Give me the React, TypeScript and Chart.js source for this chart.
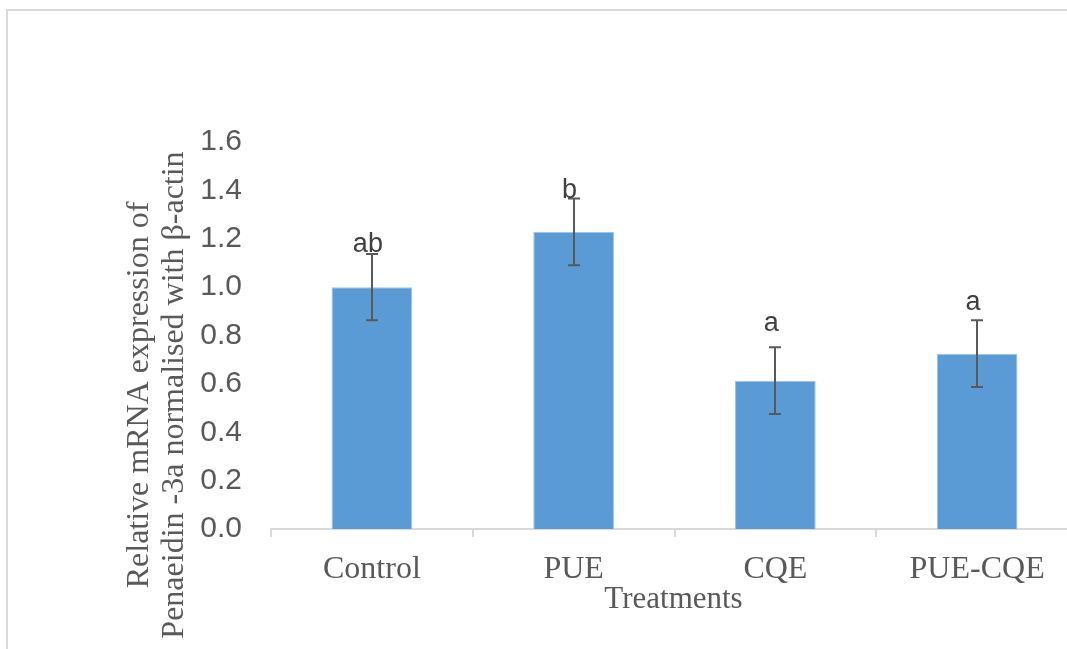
import React, { useEffect, useRef } from 'react';
import { Chart, registerables } from 'chart.js';

Chart.register(...registerables);

const categories = ['Control', 'PUE', 'CQE', 'PUE-CQE'];
const means = [1.0, 1.228, 0.613, 0.725];
const errors = [0.137, 0.138, 0.138, 0.138];
const letters = ['ab', 'b', 'a', 'a'];
const letterY = [1.145, 1.368, 0.819, 0.905];
const yMin = 0;
const yMax = 1.6;
const yStep = 0.2;
const xTitle = 'Treatments';
const yTitleLines = ['Relative mRNA expression of', 'Penaeidin -3a normalised with \u03b2-actin'];

const W = 1100;
const H = 680;

const extrasPlugin = {
  id: 'extras',
  beforeDraw(chart: any) {
    const ctx = chart.ctx;
    ctx.save();
    ctx.fillStyle = '#ffffff';
    ctx.fillRect(0, 0, chart.width, chart.height);
    ctx.strokeStyle = '#d9d9d9';
    ctx.lineWidth = 2;
    ctx.beginPath();
    ctx.moveTo(7, H);
    ctx.lineTo(7, 10);
    ctx.lineTo(W, 10);
    ctx.stroke();
    ctx.restore();
  },
  afterDatasetsDraw(chart: any) {
    const ctx = chart.ctx;
    const meta = chart.getDatasetMeta(0);
    const ys = chart.scales.y;
    ctx.save();
    ctx.strokeStyle = '#595959';
    ctx.lineWidth = 2;
    meta.data.forEach((bar: any, i: number) => {
      const x = Math.round(bar.x);
      const yt = ys.getPixelForValue(means[i] + errors[i]);
      const yb = ys.getPixelForValue(means[i] - errors[i]);
      ctx.beginPath();
      ctx.moveTo(x, yt);
      ctx.lineTo(x, yb);
      ctx.moveTo(x - 6, yt);
      ctx.lineTo(x + 6, yt);
      ctx.moveTo(x - 6, yb);
      ctx.lineTo(x + 6, yb);
      ctx.stroke();
    });
    ctx.fillStyle = '#404040';
    ctx.font = '27px "Liberation Sans", Arial, sans-serif';
    ctx.textAlign = 'center';
    ctx.textBaseline = 'alphabetic';
    meta.data.forEach((bar: any, i: number) => {
      ctx.fillText(letters[i], bar.x - 4, ys.getPixelForValue(letterY[i]));
    });
    ctx.restore();
  },
  afterDraw(chart: any) {
    const ctx = chart.ctx;
    const area = chart.chartArea;
    ctx.save();
    ctx.fillStyle = '#595959';
    ctx.font = '31px "Liberation Serif", "Times New Roman", serif';
    ctx.textAlign = 'center';
    ctx.textBaseline = 'alphabetic';
    ctx.fillText(xTitle, (area.left + area.right) / 2 - 1, 608);
    ctx.font = '32px "Liberation Serif", "Times New Roman", serif';
    const baselines = [148, 183];
    yTitleLines.forEach((line, i) => {
      ctx.save();
      ctx.translate(baselines[i], 395);
      ctx.rotate(-Math.PI / 2);
      ctx.fillText(line, 0, 0);
      ctx.restore();
    });
    ctx.restore();
  },
};

export default function App() {
  const ref = useRef<HTMLCanvasElement | null>(null);
  useEffect(() => {
    if (!ref.current) return;
    const chart = new Chart(ref.current, {
      type: 'bar',
      data: {
        labels: categories,
        datasets: [
          {
            data: means,
            backgroundColor: '#5B9BD5',
            borderColor: '#9DC3E6',
            borderWidth: 1,
            categoryPercentage: 1,
            barPercentage: 0.4,
          },
        ],
      },
      options: {
        responsive: false,
        animation: false,
        devicePixelRatio: 1,
        layout: { padding: { top: 142, right: 22, left: 0, bottom: 0 } },
        plugins: { legend: { display: false }, tooltip: { enabled: false } },
        scales: {
          x: {
            grid: {
              offset: true,
              drawOnChartArea: false,
              drawTicks: true,
              tickLength: 8,
              color: '#d9d9d9',
              lineWidth: 2,
            },
            border: { display: true, color: '#d9d9d9', width: 2 },
            ticks: {
              color: '#595959',
              padding: 13,
              font: { family: '"Liberation Serif", "Times New Roman", serif', size: 32 },
              maxRotation: 0,
              autoSkip: false,
            },
            afterFit(scale: any) {
              scale.height = H - 529;
            },
          },
          y: {
            min: yMin,
            max: yMax,
            grid: { display: false, drawTicks: false },
            border: { display: false },
            ticks: {
              stepSize: yStep,
              color: '#595959',
              padding: 29,
              font: { family: '"Liberation Sans", Arial, sans-serif', size: 30 },
              callback: (v: any) => Number(v).toFixed(1),
            },
            afterFit(scale: any) {
              scale.width = 271;
            },
          },
        },
      },
      plugins: [extrasPlugin],
    });
    return () => chart.destroy();
  }, []);
  return (
    <div style={{ position: 'fixed', left: 0, top: 0, width: 1067, height: 649, overflow: 'hidden', background: '#fff' }}>
      <canvas ref={ref} width={W} height={H} style={{ display: 'block' }} />
    </div>
  );
}
